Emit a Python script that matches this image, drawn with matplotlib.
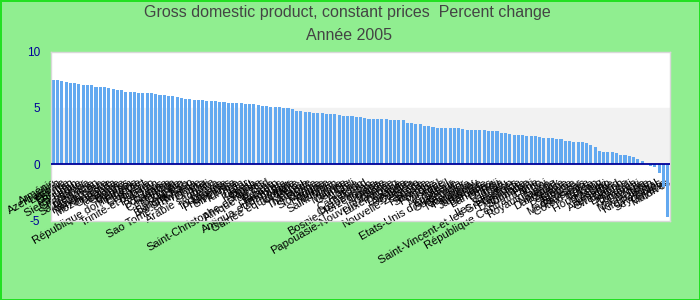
import matplotlib
matplotlib.use("Agg")
import matplotlib.pyplot as plt

plt.rcParams['font.family'] = ['Liberation Sans', 'DejaVu Sans']

countries = [
    "Arménie", "Azerbaïdjan", "Lettonie", "Estonie", "Bhoutan", "Soudan", "Sierra Leone",
    "Singapour", "Samoa", "Sainte-Lucie", "Tadjikistan", "Kazakhstan", "Timor-Leste",
    "Mozambique", "Ouganda", "Tanzanie", "Géorgie", "Belarus", "Vietnam", "République dominicaine",
    "Ethiopie", "Cap-Vert", "Nigeria", "Trinité-et-Tobago", "Pakistan", "Laos", "Botswana",
    "Panama", "Costa Rica", "Mongolie", "Zambie", "Bangladesh", "Burkina Faso", "Rwanda",
    "Sao Tomé-et-Principe", "Ghana", "Mali", "Arabie saoudite", "Kenya", "Indonésie", "Lituanie",
    "Philippines", "Sri Lanka", "Turquie", "Iran", "Qatar", "Koweït", "Oman", "Russie",
    "Saint-Christophe-et-Niévès", "Afrique du Sud", "Egypte", "Bahreïn", "Honduras",
    "Antigua-et-Barbuda", "Niger", "Guinée équatoriale", "Jordanie", "Pérou", "Malaisie",
    "Thaïlande", "Bolivie", "Slovaquie", "Hongrie", "Tunisie", "Namibie", "Saint-Marin", "Libye",
    "Maurice", "Gambie", "Chili", "Algérie", "Cameroun", "Tchad", "Ouzbékistan",
    "Bosnie-Herzégovine", "Croatie", "Islande", "Irlande", "Papouasie-Nouvelle-Guinée",
    "Luxembourg", "Grèce", "Espagne", "Australie", "Canada", "Nouvelle-Zélande", "Suède",
    "Finlande", "Slovénie", "Pologne", "Israël", "Mexique", "Brésil", "Equateur",
    "Etats-Unis d'Amérique", "Guatemala", "Salvador", "Nicaragua", "Paraguay", "Uruguay",
    "Jamaïque", "Barbade", "Bahamas", "Belize", "Fidji", "Tonga", "Vanuatu", "Iles Salomon",
    "Saint-Vincent-et-les Grenadines", "Grenade", "Dominique", "Suriname", "Haïti",
    "République Centrafricaine", "Togo", "Royaume-Uni", "Japon", "Norvège", "Danemark", "Suisse",
    "Belgique", "France", "Autriche", "Madagascar", "Pays-Bas", "Côte d'Ivoire", "Corée",
    "Taïwan", "Hong Kong", "Malawi", "Lesotho", "Allemagne", "Swaziland", "Gabon", "Erythrée",
    "Burundi", "Comores", "Djibouti", "Macédoine", "Italie", "Kirghizistan", "Portugal",
    "Seychelles", "Guyana", "Maldives",
]

growth = [
    7.5, 7.5, 7.4, 7.3, 7.2, 7.2, 7.1, 7.0, 7.0, 7.0, 6.85, 6.85, 6.85, 6.8, 6.7, 6.6, 6.6,
    6.4, 6.4, 6.4, 6.3, 6.3, 6.3, 6.3, 6.25, 6.15, 6.15, 6.05, 6.05,
    5.98, 5.89, 5.8, 5.8, 5.71, 5.71, 5.71, 5.62, 5.62, 5.62, 5.53, 5.53, 5.44, 5.44, 5.44,
    5.44, 5.36, 5.36, 5.36, 5.27, 5.18, 5.18, 5.09, 5.09, 5.09, 5.0, 5.0, 4.91, 4.73,
    4.73, 4.64, 4.64, 4.56, 4.56, 4.56, 4.47, 4.47, 4.47, 4.38, 4.29, 4.29, 4.29, 4.2, 4.2,
    4.11, 4.02, 4.02, 4.02, 4.02, 4.02, 3.93, 3.93, 3.93, 3.93, 3.67, 3.67, 3.58, 3.58,
    3.4, 3.4, 3.31, 3.22, 3.22, 3.22, 3.22, 3.22, 3.22, 3.14, 3.05, 3.05, 3.05, 3.05, 3.05,
    2.96, 2.96, 2.96, 2.78, 2.78, 2.69, 2.6, 2.6, 2.6, 2.51, 2.51, 2.51, 2.43, 2.34,
    2.34, 2.34, 2.25, 2.25, 2.07, 2.07, 1.98, 1.98, 1.98, 1.89, 1.72, 1.54, 1.18, 1.09, 1.09,
    1.09, 1.01, 0.83, 0.83, 0.74, 0.65, 0.47, 0.3, 0.0, -0.15, -0.24, -0.77, -2.0, -4.7,
]

y_ticks = [-5, 0, 5, 10]
title_line1 = "Gross domestic product, constant prices  Percent change"
title_line2 = "Année 2005"

fig = plt.figure(figsize=(7, 3), dpi=100)
fig.patch.set_facecolor('#90EE90')
fig.patch.set_edgecolor('#22e022')
fig.patch.set_linewidth(2)

ax = fig.add_axes([51 / 700, 1 - 220.6 / 300, 619 / 700, 169 / 300])
ax.set_facecolor('white')
ax.axhspan(0, 5, color='#f2f2f2', zorder=0)

x = list(range(len(growth)))
ax.bar(x, growth, width=0.72, color='#63a9f0', zorder=2)
ax.axhline(0, color='#000099', lw=1.3, zorder=3)

ax.set_xlim(-0.55, len(growth) - 0.45)
ax.set_ylim(-5, 10)
ax.set_yticks(y_ticks)
ax.set_yticklabels([str(v) for v in y_ticks])
ax.tick_params(axis='y', length=0, pad=8, labelsize=8.5, labelcolor='#000099')

ax.set_xticks(x)
ax.set_xticklabels(countries, rotation=30, ha='right', rotation_mode='anchor', fontsize=8)
ax.tick_params(axis='x', length=0, pad=-31)

for s in ax.spines.values():
    s.set_color('#d8d8d8')
    s.set_linewidth(1)

fig.text(0.496, 0.957, title_line1, ha='center', va='center', fontsize=11.5, color='#444444')
fig.text(0.498, 0.88, title_line2, ha='center', va='center', fontsize=11.5, color='#444444')

fig.savefig('out.png', dpi=100, facecolor=fig.get_facecolor(), edgecolor=fig.get_edgecolor())
